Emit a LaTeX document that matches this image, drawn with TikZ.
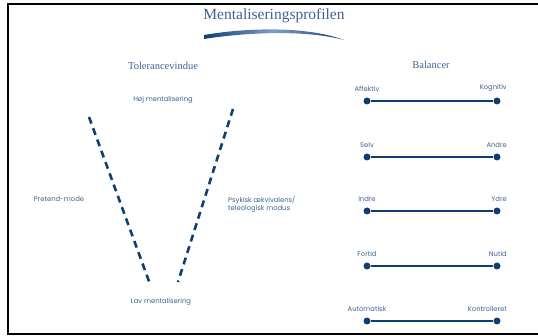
\documentclass[tikz,border=0pt]{standalone}
\usepackage{fontspec}
\setmainfont{Liberation Serif}
\newfontfamily\labelfont{Poppins}
\usetikzlibrary{positioning}
\definecolor{navy}{HTML}{0E3F74}
\definecolor{txtblue}{HTML}{3F618F}
\definecolor{swooshlight}{HTML}{7F9FC4}

\tikzset{
  lbl/.style={font=\labelfont\fontsize{6.8}{8.5}\selectfont, text=txtblue, inner sep=0pt},
  heading/.style={font=\fontsize{10.5}{12}\selectfont, text=txtblue, inner sep=0pt},
  dot/.style={circle, fill=navy, inner sep=0pt, minimum size=7pt},
  bal/.style={navy, line width=2pt},
  wall/.style={navy, line width=2.6pt, dash pattern=on 7pt off 5pt},
}

\begin{document}
\begin{tikzpicture}[x=1pt, y=-1pt]
    \useasboundingbox (0,0) rectangle (538,336);
    \draw[line width=2.5pt] (538,4) -- (8,4) -- (8,334) -- (538,334);

    % titel
    \node[heading, font=\fontsize{15.5}{18}\selectfont] (title) at (274,16) {Mentaliseringsprofilen};
    \shade[left color=navy, right color=navy, middle color=swooshlight]
        (204,35) .. controls (245,28) and (305,25.5) .. (344,40)
        .. controls (305,29.5) and (245,32.5) .. (204,39) -- cycle;

    % tolerancevindue
    \node[heading] (tol) at (163,66) {Tolerancevindue};
    \node[lbl] (hoj) at (163,100) {Høj mentalisering};
    \node[lbl] (lav) at (161,302) {Lav mentalisering};
    \node[lbl] (pretend) at (59,199) {Pretend-mode};
    \node[lbl, anchor=west, align=left] (psyk) at (228,204) {Psykisk ækvivalens/\\teleologisk modus};
    \coordinate (lt) at (89,117);
    \coordinate (lb) at (150,284);
    \coordinate (rt) at (233,109);
    \coordinate (rb) at (178,282);
    \draw[wall] (lt) -- (lb);
    \draw[wall] (rt) -- (rb);

    % balancer
    \node[heading] (bal) at (431,65) {Balancer};
    \foreach \a/\b/\y [count=\i] in {Affektiv/Kognitiv/101, Selv/Andre/157, Indre/Ydre/211,
                                     Fortid/Nutid/266, Automatisk/Kontrolleret/321} {
        \node[dot] (l\i) at (367,\y) {};
        \node[dot] (r\i) at (497,\y) {};
        \draw[bal] (l\i) -- (r\i);
        \node[lbl, above=6pt of l\i] {\a};
        \node[lbl, anchor=south east] at ([xshift=10pt, yshift=6pt]r\i.north) {\b};
    }
\end{tikzpicture}
\end{document}
